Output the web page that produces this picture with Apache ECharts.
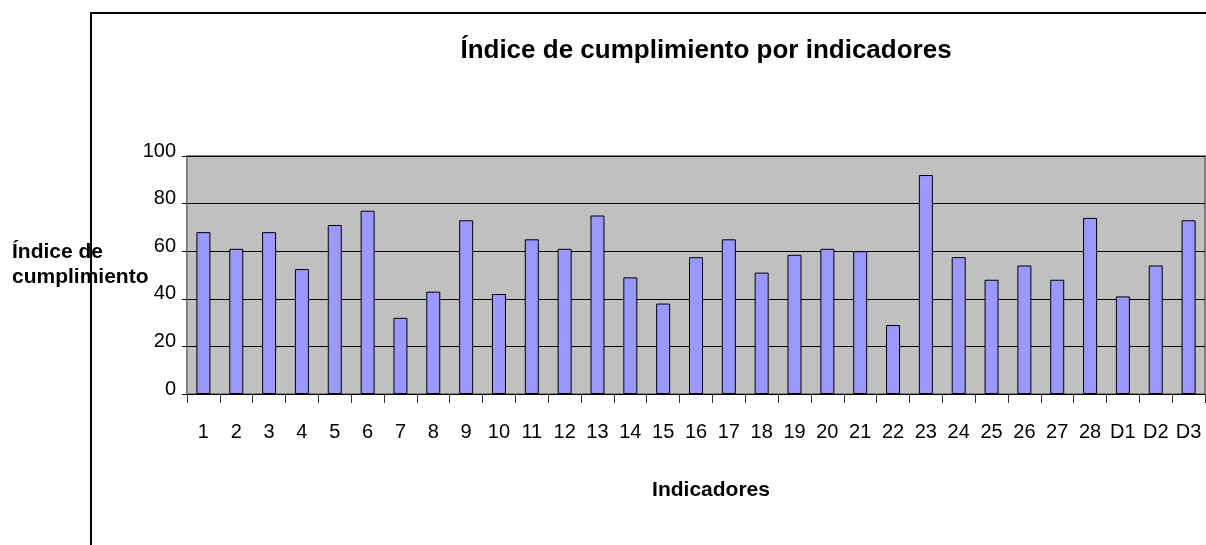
<!DOCTYPE html>
<html>
<head>
<meta charset="utf-8">
<script src="https://cdn.jsdelivr.net/npm/echarts@6/dist/echarts.min.js"></script>
<style>
html,body{margin:0;padding:0;background:#fff;}
#chart{width:1206px;height:545px;}
</style>
</head>
<body>
<div id="chart"></div>
<script>
const titleText = 'Índice de cumplimiento por indicadores';
const xAxisName = 'Indicadores';
const yAxisName = 'Índice de\ncumplimiento';
const categories = ['1','2','3','4','5','6','7','8','9','10','11','12','13','14','15','16','17','18','19','20','21','22','23','24','25','26','27','28','D1','D2','D3'];
const values = [68,61,68,52.5,71,77,32,43,73,42,65,61,75,49,38,57.5,65,51,58.5,61,60,29,92,57.5,48,54,48,74,41,54,73];
const yTicks = [0,20,40,60,80,100];

const FONT = '"Liberation Sans", Arial, sans-serif';
const chart = echarts.init(document.getElementById('chart'), null, {renderer:'canvas'});
chart.setOption({
  animation:false,
  backgroundColor:'#ffffff',
  grid:{left:187, top:156, right:1, bottom:151, show:true, backgroundColor:'#c0c0c0', borderColor:'#808080', borderWidth:2},
  xAxis:{
    type:'category', data:categories, boundaryGap:true,
    axisLine:{show:true, lineStyle:{color:'#000', width:1}},
    axisTick:{show:true, alignWithLabel:false, length:9, lineStyle:{color:'#333', width:1}},
    axisLabel:{color:'#000', fontFamily:FONT, fontSize:20, margin:28, interval:0},
    splitLine:{show:false}
  },
  yAxis:{
    type:'value', min:yTicks[0], max:yTicks[yTicks.length-1], interval:20,
    axisLine:{show:true, lineStyle:{color:'#808080', width:2}},
    axisTick:{show:true, length:5, lineStyle:{color:'#000', width:1}},
    axisLabel:{color:'#000', fontFamily:FONT, fontSize:20, margin:11, verticalAlign:'bottom', lineHeight:10},
    splitLine:{show:true, lineStyle:{color:'#000', width:1}}
  },
  series:[{
    type:'bar', data:values, barWidth:14,
    itemStyle:{color:'#9999ff', borderColor:'#000', borderWidth:1}
  }],
  graphic:[
    {type:'text', x:706, y:51, style:{text:titleText, fontFamily:FONT, fontSize:26, fontWeight:'bold', fill:'#000', align:'center', verticalAlign:'middle'}},
    {type:'text', x:711, y:490, style:{text:xAxisName, fontFamily:FONT, fontSize:21, fontWeight:'bold', fill:'#000', align:'center', verticalAlign:'middle'}},
    {type:'text', x:12, y:240, style:{text:yAxisName, fontFamily:FONT, fontSize:21, fontWeight:'bold', fill:'#000', align:'left', verticalAlign:'top', lineHeight:25}},
    {type:'rect', z:100, shape:{x:91, y:13, width:1200, height:600}, style:{fill:null, stroke:'#000', lineWidth:2}, silent:true}
  ]
});
</script>
</body>
</html>
